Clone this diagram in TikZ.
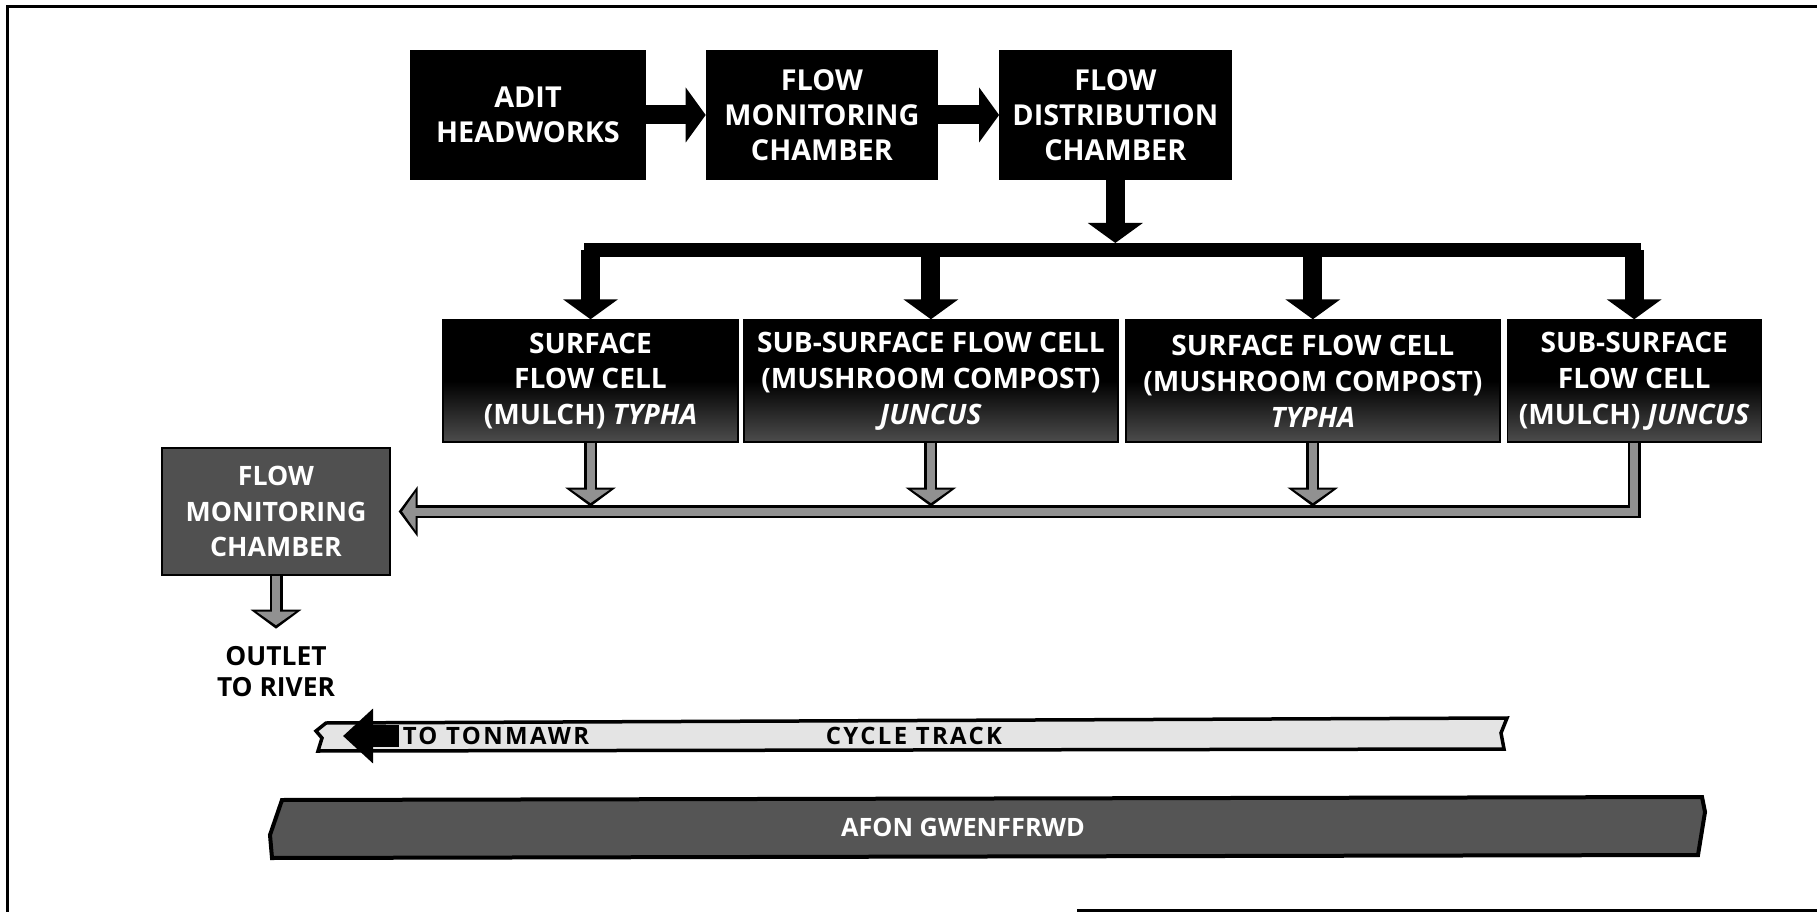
\documentclass[tikz,border=0pt]{standalone}
\usepackage{fontspec}
\setmainfont{Open Sans}
\newfontfamily\trackfont[LetterSpace=10]{Open Sans}
\usetikzlibrary{arrows.meta,positioning}
\definecolor{pipegray}{RGB}{145,145,145}
\definecolor{trackgray}{RGB}{228,228,228}
\definecolor{rivergray}{RGB}{85,85,85}
\definecolor{chambergray}{RGB}{80,80,80}

\begin{document}
\begin{tikzpicture}[x=0.1mm, y=-0.1mm,
    headbox/.style={draw, fill=black, text=white, align=center, inner sep=0pt, minimum height=12.8mm, font=\fontsize{8.2}{10}\selectfont\bfseries},
    cellbox/.style={draw, top color=black, bottom color=black!70, middle color=black, text=white, align=center, inner sep=0pt, minimum height=12.2mm, font=\fontsize{8}{10.2}\selectfont\bfseries},
    flow/.style={line width=1.9mm, -{Triangle[width=5.4mm,length=2mm]}},
    busline/.style={line width=1.4mm, line cap=rect},
    pipeout/.style={line width=1.3mm, black, line join=miter, -{Triangle[width=5mm,length=1.9mm]}},
    pipein/.style={line width=0.8mm, pipegray, line join=miter, -{Triangle[width=3.8mm,length=1.35mm]}},
    tracktext/.style={inner sep=0.3mm, font=\fontsize{6.8}{7.5}\trackfont\bfseries}]
    \useasboundingbox (0,0) rectangle (1817,912);

    % frame
    \draw[line width=0.3mm] (7,912) -- (7,7) -- (1817,7);
    \draw[line width=0.3mm] (1077,910) -- (1817,910);

    % supply side
    \node[headbox, minimum width=23.4mm] (adit) at (528,115) {ADIT\\HEADWORKS};
    \node[headbox, minimum width=23.1mm, right=6mm of adit] (monitor) {FLOW\\MONITORING\\CHAMBER};
    \node[headbox, minimum width=23.1mm, right=6.1mm of monitor] (distrib) {FLOW\\DISTRIBUTION\\CHAMBER};

    \draw[flow] (adit) -- (monitor);
    \draw[flow] (monitor) -- (distrib);

    % treatment cells
    \node[cellbox, minimum width=29.5mm] (cell1) at (590.5,381) {SURFACE\\FLOW CELL\\(MULCH) \textit{TYPHA}};
    \node[cellbox, minimum width=37.4mm, right=0.45mm of cell1] (cell2) {SUB-SURFACE FLOW CELL\\(MUSHROOM COMPOST)\\\textit{JUNCUS}};
    \node[cellbox, minimum width=37.4mm, right=0.65mm of cell2] (cell3) {SURFACE FLOW CELL\\(MUSHROOM COMPOST)\\\textit{TYPHA}};
    \node[cellbox, minimum width=25.4mm, right=0.6mm of cell3] (cell4) {SUB-SURFACE\\FLOW CELL\\(MULCH) \textit{JUNCUS}};

    \coordinate (fork) at (0,250);
    \draw[flow, shorten >=0.7mm] (distrib.south) -- (distrib.south |- fork);
    \draw[busline] (cell1.north |- fork) -- (cell4.north |- fork);
    \draw[flow] (cell1.north |- fork) -- (cell1.north);
    \draw[flow] (cell2.north |- fork) -- (cell2.north);
    \draw[flow] (cell3.north |- fork) -- (cell3.north);
    \draw[flow] (cell4.north |- fork) -- (cell4.north);

    % return side
    \node[draw, fill=chambergray, text=white, align=center, inner sep=0pt, minimum width=22.8mm, minimum height=12.7mm, font=\fontsize{7.6}{10}\selectfont\bfseries] (monitor2) at (276,511.5) {FLOW\\MONITORING\\CHAMBER};
    \node[below=6.5mm of monitor2, align=center, inner sep=0.5mm, font=\fontsize{7.5}{8.8}\selectfont\bfseries] (outlet) {OUTLET\\TO RIVER};

    \draw[pipeout, shorten >=0.8mm] (cell4.south) |- (monitor2.east);
    \draw[pipein, shorten >=1.15mm] (cell4.south) |- (monitor2.east);
    \draw[pipeout, shorten >=0.5mm] (cell1.south) -- (cell1.south |- monitor2.east);
    \draw[pipein, shorten >=0.85mm] (cell1.south) -- (cell1.south |- monitor2.east);
    \draw[pipeout, shorten >=0.5mm] (cell2.south) -- (cell2.south |- monitor2.east);
    \draw[pipein, shorten >=0.85mm] (cell2.south) -- (cell2.south |- monitor2.east);
    \draw[pipeout, shorten >=0.5mm] (cell3.south) -- (cell3.south |- monitor2.east);
    \draw[pipein, shorten >=0.85mm] (cell3.south) -- (cell3.south |- monitor2.east);
    \draw[pipeout, shorten >=1.2mm] (monitor2.south) -- (outlet.north);
    \draw[pipein, shorten >=1.55mm] (monitor2.south) -- (outlet.north);

    % cycle track
    \draw[fill=trackgray, line width=0.35mm] (326,723) -- (1507,718) -- (1501,733) -- (1504,749) -- (318,751) -- (322,738) -- (316,731) -- cycle;
    \node[tracktext] (tonmawr) at (496,736) {TO TONMAWR};
    \node[tracktext] (track) at (914,736) {CYCLE TRACK};
    \coordinate (westend) at (343,736);
    \draw[line width=2.2mm, -{Triangle[width=5.3mm,length=3mm]}] (tonmawr.west) -- (westend);

    % river
    \draw[fill=rivergray, line width=0.4mm] (282,800) -- (1702,797) -- (1705,812) -- (1698,855) -- (272,858) -- (270,835) -- cycle;
    \node[text=white, font=\fontsize{7.2}{8}\selectfont\bfseries] (river) at (963,827) {AFON GWENFFRWD};
\end{tikzpicture}
\end{document}
